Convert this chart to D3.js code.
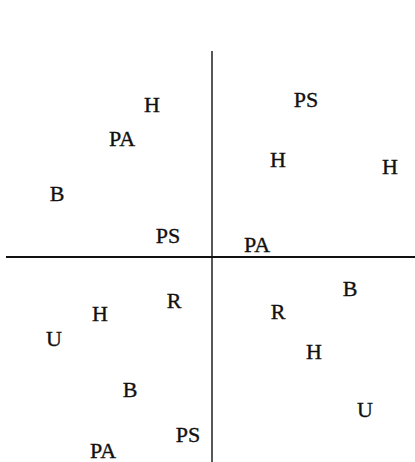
<!DOCTYPE html>
<html>
<head>
<meta charset="utf-8">
<script src="https://cdn.jsdelivr.net/npm/d3@7"></script>
<style>
  html, body { margin: 0; padding: 0; background: #fff; }
  svg { display: block; }
</style>
</head>
<body>
<div id="chart"></div>
<script>
// Quadrant map: letter labels placed on two crossing axes
const labels = ["H", "PA", "PS", "H", "H", "B", "PS", "PA", "B", "R", "H", "U", "R", "H", "B", "U", "PS", "PA"];
const xValues = [-3.0, -4.5, 4.7, 3.3, 8.9, -7.75, -2.2, 2.25, 6.9, -1.9, -5.6, -7.9, 3.3, 5.1, -4.1, 7.65, -1.2, -5.45];
const yValues = [7.6, 5.9, 7.85, 4.85, 4.5, 3.15, 1.05, 0.6, -1.6, -2.2, -2.85, -4.1, -2.75, -4.75, -6.65, -7.65, -8.9, -9.7];

const width = 415, height = 462;

const svg = d3.select("#chart").append("svg")
    .attr("width", width)
    .attr("height", height);

const x = d3.scaleLinear().domain([-10, 10]).range([12, 412]);
const y = d3.scaleLinear().domain([-10, 10]).range([457, 57]);

// axes crossing at the origin
svg.append("line")
    .attr("x1", x(-10.3)).attr("x2", x(10.2))
    .attr("y1", y(0)).attr("y2", y(0))
    .attr("stroke", "#111")
    .attr("stroke-width", 1.8);

svg.append("line")
    .attr("x1", x(0)).attr("x2", x(0))
    .attr("y1", y(10.3)).attr("y2", y(-10.3))
    .attr("stroke", "#111")
    .attr("stroke-width", 1.4);

const points = labels.map((t, i) => ({ label: t, x: xValues[i], y: yValues[i] }));

svg.selectAll(".pt")
    .data(points)
    .enter()
    .append("text")
    .attr("class", "pt")
    .attr("x", d => x(d.x))
    .attr("y", d => y(d.y))
    .attr("dy", "0.33em")
    .attr("text-anchor", "middle")
    .style("font-family", "'Liberation Serif', 'Times New Roman', serif")
    .style("font-size", "22px")
    .style("fill", "#111")
    .style("stroke", "#111")
    .style("stroke-width", 0.35)
    .text(d => d.label);
</script>
</body>
</html>
